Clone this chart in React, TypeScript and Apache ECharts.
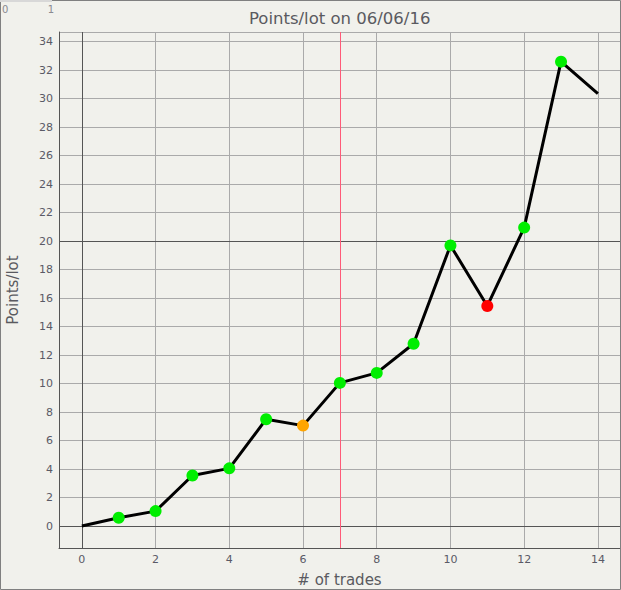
import React, { useEffect, useRef } from "react";
import * as echarts from "echarts";

const tradeIdx = [0, 1, 2, 3, 4, 5, 6, 7, 8, 9, 10, 11, 12, 13, 14];
const pointsPerLot = [0, 0.58, 1.05, 3.55, 4.05, 7.5, 7.05, 10.05, 10.75, 12.8, 19.7, 15.45, 20.95, 32.6, 30.35];
const markerColors = ["", "#00ee00", "#00ee00", "#00ee00", "#00ee00", "#00ee00", "#ffa500", "#00ee00", "#00ee00", "#00ee00", "#00ee00", "#ff0000", "#00ee00", "#00ee00", ""];
const darkXLines = [0];
const darkYLines = [0, 20];
const redXLines = [7];
const titleText = "Points/lot on 06/06/16";
const xName = "# of trades";
const yName = "Points/lot";
const cornerTicks = ["0", "1"];

const FONT = "DejaVu Sans";
const TXT = "#5a5a66";

export default function App() {
  const ref = useRef<HTMLDivElement>(null);
  useEffect(() => {
    if (!ref.current) return;
    const chart = echarts.init(ref.current, null, { renderer: "svg" });
    const data = tradeIdx.map((x, i) => {
      const c = markerColors[i];
      return c
        ? { value: [x, pointsPerLot[i]], itemStyle: { color: c } }
        : { value: [x, pointsPerLot[i]], symbol: "none" };
    });
    chart.setOption({
      animation: false,
      backgroundColor: "#f1f1ec",
      textStyle: { fontFamily: FONT },
      title: {
        text: titleText,
        left: 244,
        top: 5,
        textStyle: { fontFamily: FONT, fontSize: 16.5, fontWeight: "normal", color: "#5a5a60" },
      },
      grid: { left: 59, top: 32, right: 1, bottom: 42, containLabel: false, outerBoundsMode: "none" },
      xAxis: {
        type: "value",
        min: -0.62,
        max: 14.6,
        splitNumber: 7,
        name: xName,
        nameLocation: "middle",
        nameGap: 24,
        nameTextStyle: { fontFamily: FONT, fontSize: 15, color: "#5a5a60" },
        axisLine: { show: true, onZero: false, lineStyle: { color: "#555", width: 1 } },
        axisTick: { show: false },
        axisLabel: { showMinLabel: false, showMaxLabel: false, fontSize: 11, color: TXT, margin: 6, fontFamily: FONT },
        splitLine: { show: true, lineStyle: { color: "#aaaaaa", width: 1 } },
      },
      yAxis: {
        type: "value",
        min: -1.54,
        max: 34.68,
        splitNumber: 18,
        name: yName,
        nameLocation: "middle",
        nameGap: 39,
        nameTextStyle: { fontFamily: FONT, fontSize: 15, color: "#5a5a60" },
        axisLine: { show: true, onZero: false, lineStyle: { color: "#555", width: 1 } },
        axisTick: { show: false },
        axisLabel: { showMinLabel: false, showMaxLabel: false, fontSize: 11, color: TXT, margin: 6, fontFamily: FONT },
        splitLine: { show: true, lineStyle: { color: "#aaaaaa", width: 1 } },
      },
      graphic: [
        {
          type: "rect",
          silent: true,
          shape: { x: 0.5, y: 0.5, width: 620, height: 589 },
          style: { fill: "none", stroke: "#808080", lineWidth: 1 },
          z: 100,
        },
        {
          type: "line",
          silent: true,
          shape: { x1: 0, y1: 1, x2: 52, y2: 1 },
          style: { stroke: "#d8d8d8", lineWidth: 2 },
          z: 101,
        },
        {
          type: "text",
          x: 2,
          y: 9,
          style: { text: cornerTicks[0], fontFamily: FONT, fontSize: 10, fill: "#8a8a90", align: "left", verticalAlign: "middle" },
        },
        {
          type: "text",
          x: 51,
          y: 9,
          style: { text: cornerTicks[1], fontFamily: FONT, fontSize: 10, fill: "#8a8a90", align: "center", verticalAlign: "middle" },
        },
      ],
      series: [
        {
          type: "line",
          data,
          symbol: "circle",
          symbolSize: 12,
          lineStyle: { color: "#000", width: 3 },
          itemStyle: { color: "#00ee00", borderWidth: 0 },
          z: 5,
          markLine: {
            silent: true,
            symbol: "none",
            label: { show: false },
            z: 1,
            data: [
              ...darkXLines.map((v) => ({ xAxis: v, lineStyle: { color: "#555555", width: 1, type: "solid" } })),
              ...darkYLines.map((v) => ({ yAxis: v, lineStyle: { color: "#555555", width: 1, type: "solid" } })),
              ...redXLines.map((v) => ({ xAxis: v, lineStyle: { color: "#ff5a78", width: 1, type: "solid" } })),
            ],
          },
        },
      ],
    });
    return () => chart.dispose();
  }, []);
  return <div ref={ref} style={{ position: "absolute", left: 0, top: 0, width: 621, height: 590 }} />;
}
